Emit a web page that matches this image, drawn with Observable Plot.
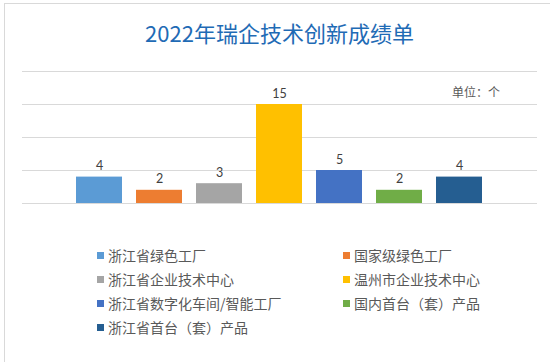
<!DOCTYPE html>
<html>
<head>
<meta charset="utf-8">
<script src="https://cdn.jsdelivr.net/npm/d3@7"></script>
<script src="https://cdn.jsdelivr.net/npm/@observablehq/plot@0.6"></script>
<style>
  html, body { margin: 0; padding: 0; background: #fff; }
  #wrap { position: relative; width: 550px; height: 362px; overflow: hidden; font-family: "Noto Sans CJK SC", sans-serif; }
  #frame { position: absolute; left: 4px; top: 3px; right: -10px; bottom: -10px; border-left: 1.5px solid #d9d9d9; border-top: 1.5px solid #d9d9d9; }
  #title { position: absolute; left: 22px; width: 515px; top: 16px; text-align: center; font-size: 22px; line-height: 32px; color: #1f6bb5; }
  #unit { position: absolute; left: 452px; top: 83px; font-size: 12px; line-height: 18px; color: #595959; }
  #chart { position: absolute; left: 0; top: 0; }
  #legend { position: absolute; left: 97px; top: 243px; display: grid; grid-template-columns: 246px auto; grid-auto-rows: 24px; font-size: 14px; color: #595959; }
  .item { display: flex; align-items: center; white-space: nowrap; }
  .sw { width: 7px; height: 7px; margin-right: 4px; flex: none; }
</style>
</head>
<body>
<div id="wrap">
  <div id="frame"></div>
  <div id="title"></div>
  <div id="unit"></div>
  <div id="chart"></div>
  <div id="legend"></div>
</div>
<script>
const title = "2022年瑞企技术创新成绩单";
const unitLabel = "单位：个";
const categories = ["浙江省绿色工厂", "国家级绿色工厂", "浙江省企业技术中心", "温州市企业技术中心", "浙江省数字化车间/智能工厂", "国内首台（套）产品", "浙江省首台（套）产品"];
const values = [4, 2, 3, 15, 5, 2, 4];
const colors = ["#5b9bd5", "#ed7d31", "#a5a5a5", "#ffc000", "#4472c4", "#70ad47", "#255e91"];
const gridTicks = [0, 5, 10, 15, 20];

const data = categories.map((c, i) => ({name: c, value: values[i]}));

document.getElementById("title").textContent = title;
document.getElementById("unit").textContent = unitLabel;

const chart = Plot.plot({
  width: 550,
  height: 215,
  marginTop: 71,
  marginBottom: 12,
  marginLeft: 22,
  marginRight: 13,
  x: {type: "band", domain: categories, paddingInner: 0.227, paddingOuter: 0.85, axis: null},
  y: {domain: [0, 20], axis: null},
  color: {domain: categories, range: colors},
  style: {background: "transparent"},
  marks: [
    Plot.ruleY(gridTicks, {stroke: "#d9d9d9", strokeWidth: 1.2}),
    Plot.barY(data, {x: "name", y: "value", fill: "name"}),
    Plot.text(data, {x: "name", y: "value", text: d => String(d.value), dy: -11, fontSize: 12.5, fill: "#404040", fontFamily: "Lato, 'Liberation Sans', sans-serif"})
  ]
});
document.getElementById("chart").appendChild(chart);

const legend = document.getElementById("legend");
categories.forEach((c, i) => {
  const item = document.createElement("div");
  item.className = "item";
  const sw = document.createElement("span");
  sw.className = "sw";
  sw.style.background = colors[i];
  const t = document.createElement("span");
  t.textContent = c;
  item.appendChild(sw);
  item.appendChild(t);
  legend.appendChild(item);
});
</script>
</body>
</html>
